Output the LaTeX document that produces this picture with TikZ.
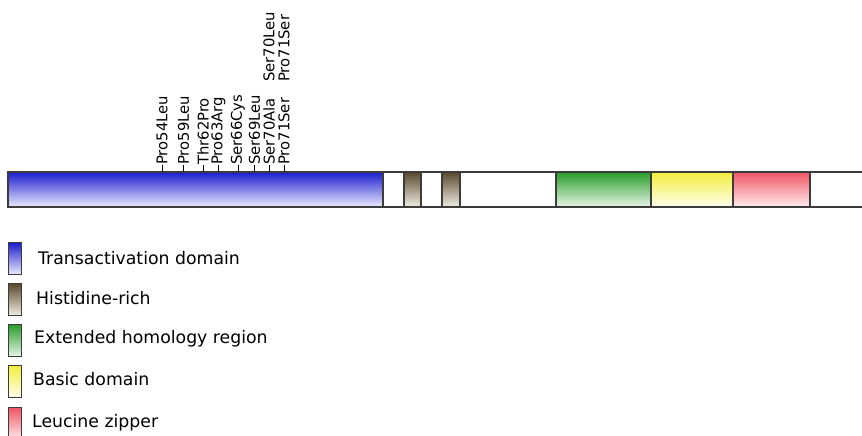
\documentclass[tikz,border=0pt]{standalone}
\usepackage{fontspec}
\setmainfont{DejaVu Sans}
\definecolor{bluetop}{RGB}{28,28,205}
\definecolor{bluemid}{RGB}{95,95,228}
\definecolor{bluebot}{RGB}{236,236,255}
\definecolor{browntop}{RGB}{88,72,44}
\definecolor{brownmid}{RGB}{150,136,110}
\definecolor{brownbot}{RGB}{242,238,228}
\definecolor{greentop}{RGB}{40,155,40}
\definecolor{greenmid}{RGB}{110,190,110}
\definecolor{greenbot}{RGB}{232,246,232}
\definecolor{yellowtop}{RGB}{242,238,60}
\definecolor{yellowmid}{RGB}{248,246,140}
\definecolor{yellowbot}{RGB}{255,255,240}
\definecolor{redtop}{RGB}{240,85,100}
\definecolor{redmid}{RGB}{246,140,150}
\definecolor{redbot}{RGB}{255,236,238}
\definecolor{edge}{RGB}{60,60,60}
\begin{document}
\begin{tikzpicture}[x=1pt,y=-1pt,
  seg/.style={draw=edge,line width=1.2pt,minimum height=35pt,inner sep=0pt,anchor=north west,outer sep=0pt},
  legbox/.style={draw=edge,line width=1.1pt,minimum width=13pt,minimum height=32pt,inner sep=0pt,anchor=north west},
  legtext/.style={anchor=west,inner sep=0pt,font=\fontsize{17.3}{20}\selectfont},
  mut/.style={rotate=90,anchor=west,inner sep=0pt,font=\fontsize{14.8}{16}\selectfont},
  tick/.style={line width=0.9pt,black},
  bluefill/.style={top color=bluetop,middle color=bluemid,bottom color=bluebot},
  brownfill/.style={top color=browntop,middle color=brownmid,bottom color=brownbot},
  greenfill/.style={top color=greentop,middle color=greenmid,bottom color=greenbot},
  yellowfill/.style={top color=yellowtop,middle color=yellowmid,bottom color=yellowbot},
  redfill/.style={top color=redtop,middle color=redmid,bottom color=redbot}]
\useasboundingbox (0,0) rectangle (862,436);
\clip (0,0) rectangle (862,436);
\fill[white] (0,0) rectangle (862,436);
% bar segments
\node[seg,minimum width=375pt,bluefill] (s1) at (8,172) {};
\node[seg,minimum width=21pt,fill=white] (s2) at (383,172) {};
\node[seg,minimum width=17pt,brownfill] (s3) at (404,172) {};
\node[seg,minimum width=21pt,fill=white] (s4) at (421,172) {};
\node[seg,minimum width=18pt,brownfill] (s5) at (442,172) {};
\node[seg,minimum width=96pt,fill=white] (s6) at (460,172) {};
\node[seg,minimum width=95pt,greenfill] (s7) at (556,172) {};
\node[seg,minimum width=82pt,yellowfill] (s8) at (651,172) {};
\node[seg,minimum width=77pt,redfill] (s9) at (733,172) {};
\node[seg,minimum width=70pt,fill=white] (s10) at (810,172) {};
% mutation labels
\node[mut] (m1) at (162,165) {Pro54Leu};
\node[mut] (m2) at (183.5,165) {Pro59Leu};
\node[mut] (m3) at (203,165) {Thr62Pro};
\node[mut] (m4) at (218.5,165) {Pro63Arg};
\node[mut] (m5) at (238,165) {Ser66Cys};
\node[mut] (m6) at (254.5,165) {Ser69Leu};
\node[mut] (m7) at (269,165) {Ser70Ala};
\node[mut] (m8) at (284,165) {Pro71Ser};
\node[mut] (m9) at (269,82) {Ser70Leu};
\node[mut] (m10) at (284,82) {Pro71Ser};
\foreach \i/\x in {1/162,2/183.5,3/203,4/218.5,5/238,6/254.5,7/269,8/284}{
  \coordinate (t\i) at (\x,172);
  \draw[tick] (t\i) -- (m\i.west);
}
% legend
\node[legbox,bluefill] (l1) at (8,242) {};
\node[legbox,brownfill] (l2) at (8,283) {};
\node[legbox,greenfill] (l3) at (8,324) {};
\node[legbox,yellowfill] (l4) at (8,365) {};
\node[legbox,redfill] (l5) at (8,407) {};
\node[legtext] (lt1) at (38,258) {Transactivation domain};
\node[legtext] (lt2) at (36,298) {Histidine-rich};
\node[legtext] (lt3) at (34,339) {Extended homology region};
\node[legtext] (lt4) at (33,379) {Basic domain};
\node[legtext] (lt5) at (32,423) {Leucine zipper};
\end{tikzpicture}
\end{document}
